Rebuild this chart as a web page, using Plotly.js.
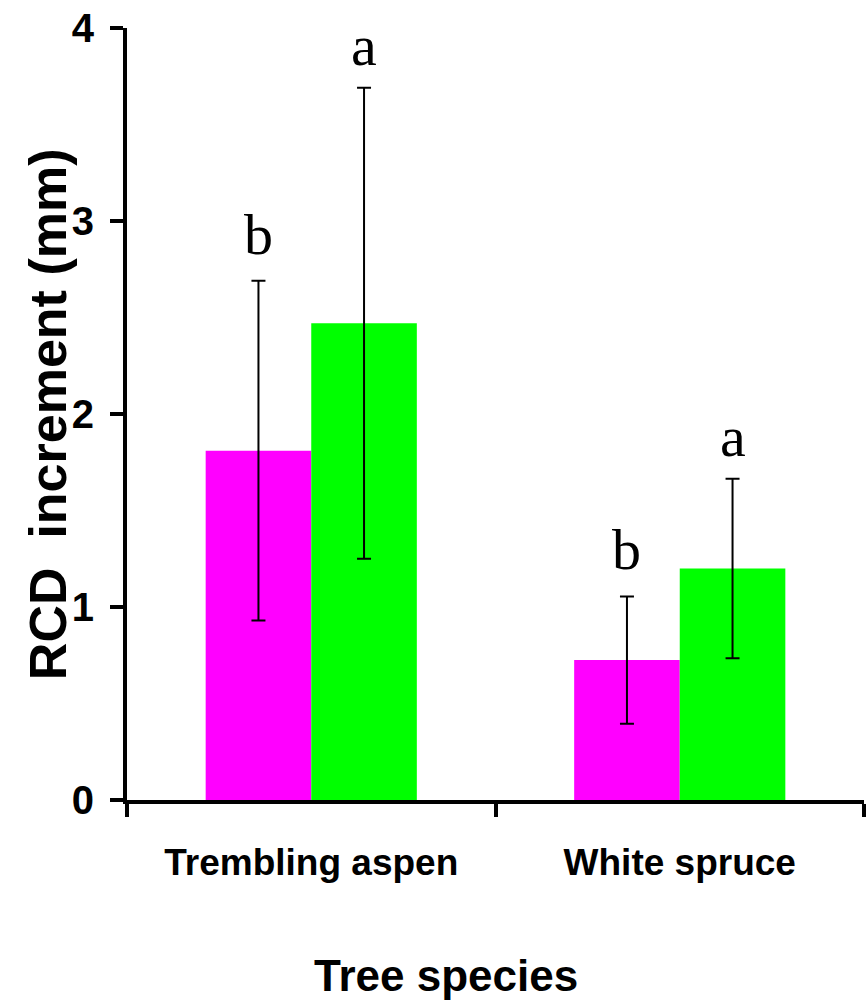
<!DOCTYPE html>
<html>
<head>
<meta charset="utf-8">
<script src="https://cdn.plot.ly/plotly-3.0.1.min.js"></script>
<style>html,body{margin:0;padding:0;background:#fff;}</style>
</head>
<body>
<div id="chart" style="width:867px;height:1003px;"></div>
<script>
const categories = ["Trembling aspen", "White spruce"];
const seriesNames = ["Treatment 1", "Treatment 2"];
const valuesMagenta = [1.81, 0.725];
const errorsMagenta = [0.88, 0.33];
const valuesGreen = [2.47, 1.20];
const errorsGreen = [1.22, 0.465];
const lettersMagenta = ["b", "b"];
const lettersGreen = ["a", "a"];
const yTicks = [0, 1, 2, 3, 4];
const xTitle = "Tree species";
const yTitle = "RCD\u00a0 increment (mm)";

const bargap = 0.427;
const nSeries = 2;
const barW = (1 - bargap) / nSeries;

const errStyle = {type: 'data', visible: true, color: '#000', thickness: 2, width: 7};

const traces = [
  {type: 'bar', name: seriesNames[0], x: categories, y: valuesMagenta,
   marker: {color: '#FF00FF', line: {width: 0}},
   error_y: Object.assign({array: errorsMagenta}, errStyle)},
  {type: 'bar', name: seriesNames[1], x: categories, y: valuesGreen,
   marker: {color: '#00FF00', line: {width: 0}},
   error_y: Object.assign({array: errorsGreen}, errStyle)}
];

const letterFont = {family: 'Liberation Serif, Times New Roman, serif', size: 58, color: '#000'};
const annotations = [];
categories.forEach((c, i) => {
  annotations.push({xref: 'x', yref: 'y', x: i - barW / 2, y: valuesMagenta[i] + errorsMagenta[i],
    text: lettersMagenta[i], showarrow: false, yanchor: 'bottom', yshift: 12, font: letterFont});
  annotations.push({xref: 'x', yref: 'y', x: i + barW / 2, y: valuesGreen[i] + errorsGreen[i],
    text: lettersGreen[i], showarrow: false, yanchor: 'bottom', yshift: 8, font: letterFont});
});
annotations.push({xref: 'paper', yref: 'paper', x: 0.433, y: -0.227, yanchor: 'middle',
  text: xTitle, showarrow: false,
  font: {family: 'Liberation Sans, Arial, sans-serif', size: 44, color: '#000', weight: 'bold'}});
annotations.push({xref: 'paper', yref: 'paper', x: -0.107, y: 0.5, xanchor: 'center', yanchor: 'middle',
  text: yTitle, textangle: -90, showarrow: false,
  font: {family: 'Liberation Sans, Arial, sans-serif', size: 52, color: '#000', weight: 'bold'}});

const layout = {
  width: 867, height: 1003,
  margin: {l: 127, r: 3, t: 28, b: 203},
  paper_bgcolor: '#fff', plot_bgcolor: '#fff',
  showlegend: false,
  barmode: 'group', bargap: bargap, bargroupgap: 0,
  xaxis: {
    type: 'category', range: [-0.5, 1.5],
    showline: true, linecolor: '#000', linewidth: 4,
    ticks: 'outside', tickson: 'boundaries', ticklen: 13, tickwidth: 4, tickcolor: '#000',
    showgrid: false, zeroline: false,
    tickfont: {family: 'Liberation Sans, Arial, sans-serif', size: 37, color: '#000', weight: 'bold'},
    ticklabelstandoff: 27
  },
  yaxis: {
    range: [0, 4], tickvals: yTicks, ticktext: yTicks.map(String),
    showline: true, linecolor: '#000', linewidth: 4,
    ticks: 'outside', ticklen: 13, tickwidth: 4, tickcolor: '#000',
    showgrid: false, zeroline: false,
    tickfont: {family: 'Liberation Sans, Arial, sans-serif', size: 40, color: '#000', weight: 'bold'},
    ticklabelstandoff: 8
  },
  annotations: annotations
};

Plotly.newPlot('chart', traces, layout, {staticPlot: true, displayModeBar: false});
</script>
</body>
</html>
